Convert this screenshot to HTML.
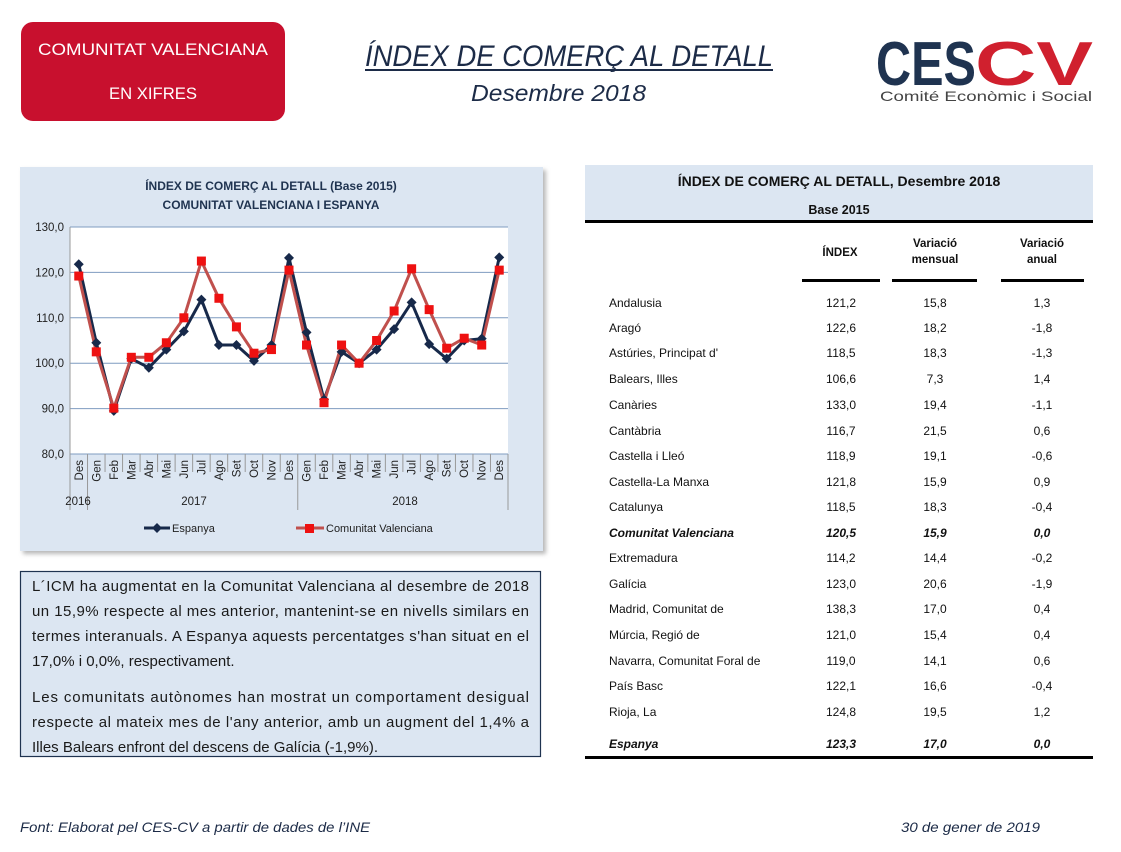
<!DOCTYPE html>
<html><head><meta charset="utf-8">
<style>
html,body{margin:0;padding:0;background:#fff;}
svg{display:block;font-family:"Liberation Sans",sans-serif;}
</style></head>
<body>
<svg id="s" width="1121" height="852" viewBox="0 0 1121 852" xmlns="http://www.w3.org/2000/svg">
<defs>
<filter id="sh" x="-5%" y="-5%" width="115%" height="115%"><feDropShadow dx="3" dy="3" stdDeviation="2" flood-color="#888" flood-opacity="0.6"/></filter>
</defs>
<rect x="21" y="22" width="264" height="99" rx="12" fill="#c8102e"/>
<text x="153" y="55" text-anchor="middle" fill="#fff" font-size="17" textLength="230" lengthAdjust="spacingAndGlyphs">COMUNITAT VALENCIANA</text>
<text x="153" y="99" text-anchor="middle" fill="#fff" font-size="17" textLength="88" lengthAdjust="spacingAndGlyphs">EN XIFRES</text>
<text x="365" y="66" fill="#1c2b47" font-size="30" font-style="italic" textLength="408" lengthAdjust="spacingAndGlyphs">ÍNDEX DE COMERÇ AL DETALL</text>
<rect x="365" y="69" width="408" height="2" fill="#1c2b47"/>
<text x="471" y="101" fill="#1c2b47" font-size="23" font-style="italic" textLength="175" lengthAdjust="spacingAndGlyphs">Desembre 2018</text>
<text x="876" y="85" fill="#1f3350" font-size="62" font-weight="bold" textLength="100" lengthAdjust="spacingAndGlyphs">CES</text>
<text x="975" y="85" fill="#d0202e" font-size="62" font-weight="bold" textLength="118" lengthAdjust="spacingAndGlyphs">CV</text>
<text x="880" y="101" fill="#444" font-size="14" textLength="212" lengthAdjust="spacingAndGlyphs">Comité Econòmic i Social</text>

<rect x="20" y="167" width="523" height="384" fill="#dce6f2" filter="url(#sh)"/>
<text x="271" y="190" text-anchor="middle" fill="#1f3350" font-size="12" font-weight="bold">ÍNDEX DE COMERÇ  AL DETALL (Base 2015)</text>
<text x="271" y="209" text-anchor="middle" fill="#1f3350" font-size="12" font-weight="bold">COMUNITAT  VALENCIANA  I ESPANYA</text>
<rect x="70" y="227" width="438" height="227" fill="#fff"/>
<g id="grid" stroke="#7f9cc0" stroke-width="1"></g>
<g id="lbl" font-size="11.5" fill="#222"></g>
<g id="series"></g>
<line x1="144" y1="528" x2="170" y2="528" stroke="#17294a" stroke-width="3"/>
<path d="M157 523 l5 5 -5 5 -5 -5z" fill="#17294a"/>
<text x="172" y="532" font-size="11" fill="#222">Espanya</text>
<line x1="296" y1="528" x2="324" y2="528" stroke="#c0504d" stroke-width="3"/>
<rect x="305" y="524" width="9" height="9" fill="#ee1111"/>
<text x="326" y="532" font-size="11" fill="#222">Comunitat Valenciana</text>

<rect x="20.5" y="571.5" width="520" height="185" fill="#dce6f2" stroke="#1f3350" stroke-width="1.2"/>
<g font-size="15" fill="#1a1a1a">
<text x="32" y="591" textLength="497" lengthAdjust="spacing">L´ICM ha augmentat en la Comunitat Valenciana al desembre de 2018</text>
<text x="32" y="616" textLength="497" lengthAdjust="spacing">un 15,9% respecte al mes anterior, mantenint-se en nivells similars en</text>
<text x="32" y="641" textLength="497" lengthAdjust="spacing">termes interanuals. A Espanya aquests percentatges s'han situat en el</text>
<text x="32" y="666">17,0% i 0,0%, respectivament.</text>
<text x="32" y="702" textLength="497" lengthAdjust="spacing">Les comunitats autònomes han mostrat un comportament desigual</text>
<text x="32" y="727" textLength="497" lengthAdjust="spacing">respecte al mateix mes de l'any anterior, amb un augment del 1,4% a</text>
<text x="32" y="752">Illes Balears enfront del descens de Galícia (-1,9%).</text>
</g>

<rect x="585" y="165" width="508" height="55" fill="#dce6f2"/>
<rect x="585" y="220" width="508" height="3" fill="#000"/>
<text x="839" y="186" text-anchor="middle" font-size="14" font-weight="bold" fill="#111">ÍNDEX DE COMERÇ AL DETALL, Desembre 2018</text>
<text x="839" y="214" text-anchor="middle" font-size="12.5" font-weight="bold" fill="#111">Base 2015</text>
<g font-size="11.5" font-weight="bold" fill="#111" text-anchor="middle">
<text x="840" y="256">ÍNDEX</text>
<text x="935" y="247">Variació</text><text x="935" y="263">mensual</text>
<text x="1042" y="247">Variació</text><text x="1042" y="263">anual</text>
</g>
<rect x="802" y="279" width="78" height="3" fill="#000"/>
<rect x="892" y="279" width="85" height="3" fill="#000"/>
<rect x="1001" y="279" width="83" height="3" fill="#000"/>
<g id="tbl" font-size="12" fill="#111"></g>
<rect x="585" y="756" width="508" height="3" fill="#000"/>

<text x="20" y="832" font-size="14" font-style="italic" fill="#1c2b47" textLength="350" lengthAdjust="spacingAndGlyphs">Font: Elaborat pel CES-CV a partir de dades de l’INE</text>
<text x="901" y="832" font-size="14" font-style="italic" fill="#1c2b47" textLength="139" lengthAdjust="spacingAndGlyphs">30 de gener de 2019</text>
</svg>
<script>
var NS="http://www.w3.org/2000/svg";
function el(p,t,a,txt){var e=document.createElementNS(NS,t);for(var k in a)e.setAttribute(k,a[k]);if(txt!=null)e.textContent=txt;p.appendChild(e);return e;}
var grid=document.getElementById('grid'),lbl=document.getElementById('lbl'),ser=document.getElementById('series');
var L=70,R=508,T=227,B=454,n=25,w=(R-L)/n;
function Y(v){return B-(v-80)*(B-T)/50;}
function X(i){return L+w*(i+0.5);}
for(var v=80;v<=130;v+=10){el(grid,'line',{x1:L,x2:R,y1:Y(v),y2:Y(v)});el(lbl,'text',{x:L-6,y:Y(v)+4,'text-anchor':'end'},v.toFixed(1).replace('.',','));}
el(grid,'line',{x1:L,x2:L,y1:T,y2:B,stroke:'#999'});
var m=['Des','Gen','Feb','Mar','Abr','Mai','Jun','Jul','Ago','Set','Oct','Nov','Des','Gen','Feb','Mar','Abr','Mai','Jun','Jul','Ago','Set','Oct','Nov','Des'];
for(var i=0;i<=n;i++){var x=L+w*i;var y2=(i==0||i==1||i==13||i==25)?510:472;el(grid,'line',{x1:x,x2:x,y1:B,y2:y2,stroke:'#999'});}
for(var i=0;i<n;i++){el(lbl,'text',{x:0,y:0,transform:'translate('+(X(i)+4)+',460) rotate(-90)','text-anchor':'end'},m[i]);}
el(lbl,'text',{x:78,y:505,'text-anchor':'middle'},'2016');
el(lbl,'text',{x:194,y:505,'text-anchor':'middle'},'2017');
el(lbl,'text',{x:405,y:505,'text-anchor':'middle'},'2018');
var es=[121.8,104.5,89.5,101,99,103,107,114,104,104,100.5,104,123.2,106.8,92,102.5,100,103,107.5,113.4,104.2,101,105,105.4,123.3];
var cv=[119.2,102.5,90.1,101.3,101.3,104.5,110,122.5,114.3,108,102.2,103,120.5,104,91.3,104,100,105,111.5,120.8,111.8,103.3,105.5,104,120.5];
function pts(a){return a.map(function(v,i){return X(i).toFixed(1)+','+Y(v).toFixed(1)}).join(' ');}
el(ser,'polyline',{points:pts(es),fill:'none',stroke:'#17294a','stroke-width':3,'stroke-linejoin':'round'});
el(ser,'polyline',{points:pts(cv),fill:'none',stroke:'#c0504d','stroke-width':3,'stroke-linejoin':'round'});
es.forEach(function(v,i){var x=X(i),y=Y(v);el(ser,'path',{d:'M'+x+' '+(y-5)+' l5 5 -5 5 -5 -5z',fill:'#17294a'});});
cv.forEach(function(v,i){var x=X(i),y=Y(v);el(ser,'rect',{x:x-4.5,y:y-4.5,width:9,height:9,fill:'#ee1111'});});
var rows=[["Andalusia","121,2","15,8","1,3"],["Aragó","122,6","18,2","-1,8"],["Astúries, Principat d'","118,5","18,3","-1,3"],["Balears, Illes","106,6","7,3","1,4"],["Canàries","133,0","19,4","-1,1"],["Cantàbria","116,7","21,5","0,6"],["Castella i Lleó","118,9","19,1","-0,6"],["Castella-La Manxa","121,8","15,9","0,9"],["Catalunya","118,5","18,3","-0,4"],["Comunitat Valenciana","120,5","15,9","0,0"],["Extremadura","114,2","14,4","-0,2"],["Galícia","123,0","20,6","-1,9"],["Madrid, Comunitat de","138,3","17,0","0,4"],["Múrcia, Regió de","121,0","15,4","0,4"],["Navarra, Comunitat Foral de","119,0","14,1","0,6"],["País Basc","122,1","16,6","-0,4"],["Rioja, La","124,8","19,5","1,2"],["Espanya","123,3","17,0","0,0"]];
var ys=[303,328,353,379,405,431,456,482,507,533,558,584,609,635,661,686,712,744];
var tb=document.getElementById('tbl');
rows.forEach(function(r,i){var y=ys[i]+4;var b=(i==9||i==17);var a=b?{'font-weight':'bold','font-style':'italic'}:{};
function t(x,anc,s){var o={x:x,y:y,'text-anchor':anc};for(var k in a)o[k]=a[k];el(tb,'text',o,s);}
t(609,'start',r[0]);t(841,'middle',r[1]);t(935,'middle',r[2]);t(1042,'middle',r[3]);});
</script>
</body></html>
